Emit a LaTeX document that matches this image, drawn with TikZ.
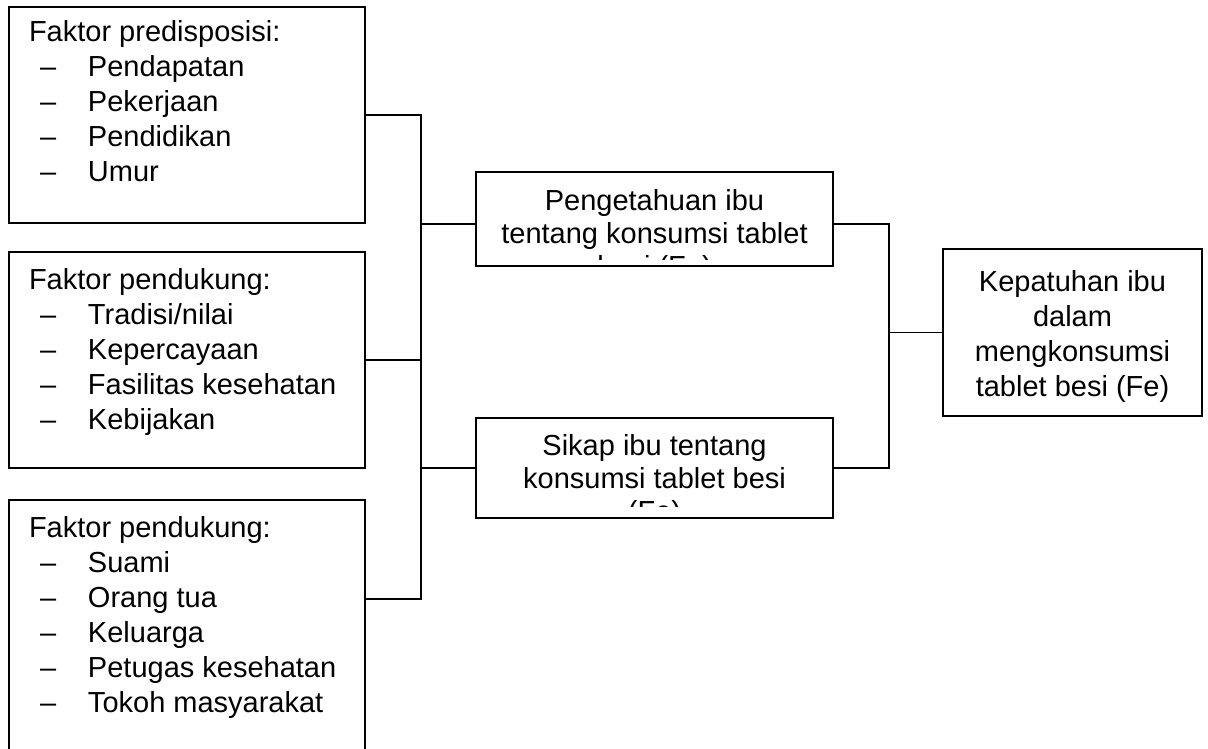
\documentclass[tikz,border=0pt]{standalone}
\usepackage{fontspec}
\setmainfont{Liberation Sans}
\newcommand\itm[1]{\hspace*{11pt}\makebox[48pt][l]{–}#1}
\begin{document}
\begin{tikzpicture}[x=1pt,y=-1pt,
  box/.style={draw, line width=1.6pt, inner sep=0pt, outer sep=0pt, anchor=north west},
  conn/.style={draw, line width=1.6pt},
  txt/.style={inner sep=0pt, outer sep=0pt, font=\fontsize{29}{35}\selectfont}]
\useasboundingbox (0,0) rectangle (1208,749);
% left boxes
\node[box, minimum width=356pt, minimum height=216pt] (b1) at (9,7) {};
\node[box, minimum width=356pt, minimum height=216pt] (b2) at (9,252) {};
\node[box, minimum width=356pt, minimum height=280pt] (b3) at (9,500) {};
\node[txt, anchor=base west] (t1) at (29,42) {\begin{tabular}[t]{@{}l@{}}Faktor predisposisi:\\ \itm{Pendapatan}\\ \itm{Pekerjaan}\\ \itm{Pendidikan}\\ \itm{Umur}\end{tabular}};
\node[txt, anchor=base west] (t2) at (29,289) {\begin{tabular}[t]{@{}l@{}}Faktor pendukung:\\ \itm{Tradisi/nilai}\\ \itm{Kepercayaan}\\ \itm{Fasilitas kesehatan}\\ \itm{Kebijakan}\end{tabular}};
\node[txt, anchor=base west] (t3) at (29,537) {\begin{tabular}[t]{@{}l@{}}Faktor pendukung:\\ \itm{Suami}\\ \itm{Orang tua}\\ \itm{Keluarga}\\ \itm{Petugas kesehatan}\\ \itm{Tokoh masyarakat}\end{tabular}};
% middle boxes
\node[box, minimum width=357pt, minimum height=94pt] (m1) at (476,172) {};
\node[box, minimum width=357pt, minimum height=100pt] (m2) at (476,418) {};
\begin{scope}
\clip (478,174) rectangle (831,259);
\node[txt, anchor=base, font=\fontsize{29}{33}\selectfont] (tm1) at (654.5,211) {\begin{tabular}[t]{@{}c@{}}Pengetahuan ibu\\ tentang konsumsi tablet\\ besi (Fe)\end{tabular}};
\end{scope}
\begin{scope}
\clip (478,420) rectangle (831,506);
\node[txt, anchor=base, font=\fontsize{29}{33}\selectfont] (tm2) at (654.5,455) {\begin{tabular}[t]{@{}c@{}}Sikap ibu tentang\\ konsumsi tablet besi\\ (Fe)\end{tabular}};
\end{scope}
% right box
\node[box, minimum width=259pt, minimum height=167pt] (r) at (943,249) {};
\node[txt, anchor=base, font=\fontsize{29}{35}\selectfont] (tr) at (1072.5,291) {\begin{tabular}[t]{@{}c@{}}Kepatuhan ibu\\ dalam\\ mengkonsumsi\\ tablet besi (Fe)\end{tabular}};
% connectors
\coordinate (busL) at (421,0);
\coordinate (busR) at (889,0);
\coordinate (b3c) at ([yshift=-99pt]b3.north east);
\coordinate (m1c) at ([yshift=42pt]m1.south west);
\coordinate (m1e) at ([yshift=42pt]m1.south east);
\draw[conn] (b1.east) -- (b1.east -| busL) -- (b3c -| busL) -- (b3c);
\draw[conn] (b2.east) -- (b2.east -| busL);
\draw[conn] (m1c -| busL) -- (m1c);
\draw[conn] (m2.west -| busL) -- (m2.west);
\draw[conn] (m1e) -- (m1e -| busR) -- (m2.east -| busR) -- (m2.east);
\draw[conn] (r.west -| busR) -- (r.west);
\end{tikzpicture}
\end{document}
